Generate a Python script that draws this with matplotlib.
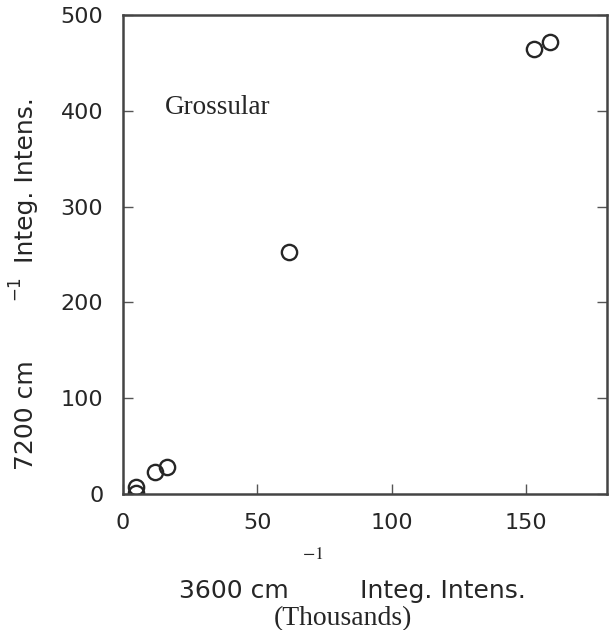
import matplotlib.pyplot as plt

# 3600 cm-1 integrated intensity (thousands) vs 7200 cm-1 integrated intensity
x_3600 = [5, 5, 12, 16.5, 62, 153, 159]
y_7200 = [1, 7, 23, 28, 253, 465, 472]

x_ticks = [0, 50, 100, 150]
y_ticks = [0, 100, 200, 300, 400, 500]

ink = "#262626"
W, H = 614, 630
plt.rcParams["font.family"] = ["DejaVu Sans"]

fig = plt.figure(figsize=(W / 100, H / 100), dpi=100)
ax = fig.add_axes([0.200, 0.216, 0.788, 0.760])

ax.plot(x_3600, y_7200, linestyle="none", marker="o", markersize=11,
        markerfacecolor="none", markeredgecolor=ink, markeredgewidth=1.7)

ax.set_xlim(0, 180)
ax.set_ylim(0, 500)
ax.set_xticks(x_ticks)
ax.set_yticks(y_ticks)
ax.tick_params(axis="both", direction="in", length=7, width=1.0, color="#555555",
               labelsize=16, labelcolor=ink)
ax.tick_params(axis="y", pad=14, right=True)
ax.tick_params(axis="x", pad=14)
for s in ax.spines.values():
    s.set_linewidth(1.8)
    s.set_color("#444444")


def fx(px):
    return px / W


def fy(py):
    return 1 - py / H


fig.text(fx(165), fy(114), "Grossular", fontsize=19.5,
         family="Liberation Serif", color=ink, va="baseline")

# y axis title, rotated
ykw = dict(rotation=90, rotation_mode="anchor", ha="left", va="baseline",
           color=ink, fontsize=18)
fig.text(fx(33), fy(470), "7200 cm", **ykw)
fig.text(fx(21), fy(302), r"$-1$", math_fontfamily="dejavusans",
         **{**ykw, "fontsize": 12})
fig.text(fx(33), fy(263), "Integ. Intens.", **ykw)

# x axis title
xkw = dict(ha="left", va="baseline", color=ink, fontsize=18)
fig.text(fx(179), fy(598), "3600 cm", **xkw)
fig.text(fx(302), fy(559), r"$-1$", math_fontfamily="stix",
         **{**xkw, "fontsize": 13})
fig.text(fx(360), fy(598), "Integ. Intens.", **xkw)
fig.text(fx(343), fy(625), "(Thousands)", ha="center", va="baseline",
         color=ink, fontsize=20, family="Liberation Serif")

fig.savefig("out.png", dpi=100)
